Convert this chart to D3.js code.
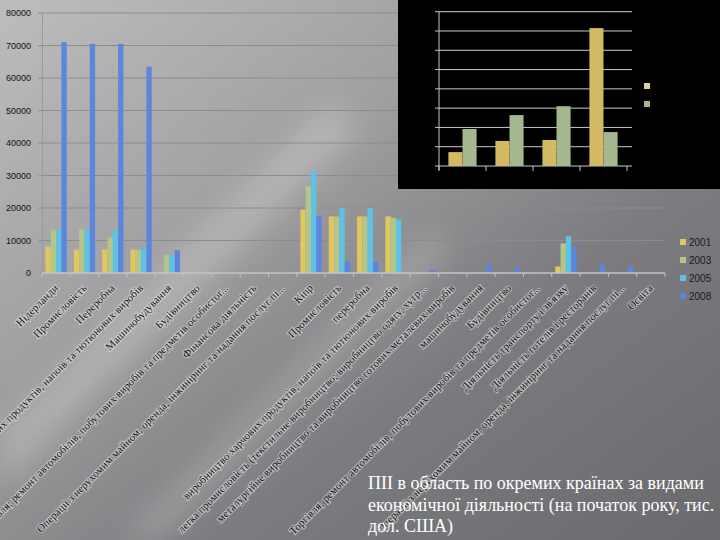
<!DOCTYPE html>
<html>
<head>
<meta charset="utf-8">
<script src="https://cdn.jsdelivr.net/npm/d3@7"></script>
<style>
  html, body { margin: 0; padding: 0; }
  body { width: 720px; height: 540px; overflow: hidden; }
  .tick-y { font-family: "Liberation Sans", Arial, sans-serif; font-size: 9px; fill: #111; }
  .cat { font-family: "Liberation Serif", "Times New Roman", serif; font-size: 11px; fill: #111;
         stroke: rgba(235,235,235,0.55); stroke-width: 2px; paint-order: stroke; }
  .leg { font-family: "Liberation Sans", Arial, sans-serif; font-size: 10px; fill: #1a1a1a; }
  .caption { font-family: "Liberation Serif", "Times New Roman", serif; font-size: 18px; fill: #fff; }
</style>
</head>
<body>
<script>
const w = 720;
const h = 540;

const categories = [
  "Нідерланди",
  "Промисловість",
  "Переробна",
  "виробництво харчових продуктів, напоїв та тютюнових виробів",
  "Машинобудування",
  "Будівництво",
  "Торгівля; ремонт автомобілів, побутових виробів та предметів особистог...",
  "Фінансова діяльність",
  "Операції з нерухомим майном, оренда, інжиніринг та надання послуг пі...",
  "Кіпр",
  "Промисловість",
  "переробна",
  "виробництво харчових продуктів, напоїв та тютюнових виробів",
  "легка промисловість (текстильне виробництво; виробництво одягу, хутр...",
  "металургійне виробництво та виробництво готових металевих виробів",
  "машинобудування",
  "Будівництво",
  "Торгівля; ремонт автомобілів, побутових виробів та предметів особистог...",
  "Діяльність транспорту і зв'язку",
  "Діяльність готелів і ресторанів",
  "Операції з нерухомим майном, оренда, інжиніринг та надання послуг пі...",
  "Освіта"
];

const years = ["2001", "2003", "2005", "2008"];
const v2001 = [8100, 7200, 7300, 7200, 0, 0, 0, 0, 0, 19500, 17400, 17400, 17400, 0, 0, 0, 0, 0, 2000, 0, 0, 0];
const v2003 = [13300, 13500, 11000, 7200, 5500, 0, 0, 0, 0, 26700, 17400, 17400, 17000, 0, 0, 0, 0, 0, 9100, 0, 0, 0];
const v2005 = [13300, 13300, 13000, 7500, 5500, 0, 0, 0, 0, 31300, 20000, 20000, 16500, 0, 0, 0, 0, 0, 11300, 0, 0, 0];
const v2008 = [71000, 70500, 70500, 63500, 7000, 0, 0, 0, 0, 17600, 3500, 3500, 0, 900, 0, 2600, 1700, 0, 8100, 2400, 2000, 0];
const yTicks = [0, 10000, 20000, 30000, 40000, 50000, 60000, 70000, 80000];

// small chart in the black box
const insetCats = ["a", "b", "c", "d"];
const insetA = [0.72, 1.3, 1.35, 7.15];
const insetB = [1.92, 2.64, 3.1, 1.76];

const colors = { "2001": "#e2c75e", "2003": "#b2c68a", "2005": "#5ec2e6", "2008": "#5b86dc" };
const series = { "2001": v2001, "2003": v2003, "2005": v2005, "2008": v2008 };

const svg = d3.select("body").append("svg").attr("width", w).attr("height", h);
const defs = svg.append("defs");

const bg = defs.append("linearGradient").attr("id", "bg")
  .attr("x1", "0").attr("y1", "0").attr("x2", "1").attr("y2", "1");
bg.append("stop").attr("offset", "0%").attr("stop-color", "#bdbdbd");
bg.append("stop").attr("offset", "35%").attr("stop-color", "#a0a0a2");
bg.append("stop").attr("offset", "65%").attr("stop-color", "#7c7c80");
bg.append("stop").attr("offset", "100%").attr("stop-color", "#6a6a6e");

defs.append("filter").attr("id", "blur").append("feGaussianBlur").attr("stdDeviation", 14);

svg.append("rect").attr("width", w).attr("height", h).attr("fill", "url(#bg)");

// light diagonal sheen
const sheen = svg.append("g").attr("filter", "url(#blur)").attr("opacity", 0.35);
sheen.append("path").attr("d", "M0,430 L330,100 L360,130 L0,490 Z").attr("fill", "#d8d8d8");
sheen.append("path").attr("d", "M120,540 L430,230 L450,250 L160,540 Z").attr("fill", "#c8c8c8");

const pLeft = 42, pRight = 665, pTop = 13, pBottom = 273;

const x0 = d3.scaleBand()
  .domain(categories.map((d, i) => i))
  .range([pLeft, pRight])
  .paddingInner(0.25)
  .paddingOuter(0.125);
const x1 = d3.scaleBand().domain(years).range([0, x0.bandwidth()]);
const y = d3.scaleLinear().domain([0, 80000]).range([pBottom, pTop]);

// grid
svg.append("g")
  .selectAll("line")
  .data(yTicks.slice(1))
  .enter()
  .append("line")
  .attr("x1", pLeft - 3)
  .attr("x2", pRight)
  .attr("y1", (d) => y(d))
  .attr("y2", (d) => y(d))
  .attr("stroke", "#8c8c8e")
  .attr("stroke-width", 1);

const yAxis = d3.axisLeft(y).tickValues(yTicks).tickSize(4).tickPadding(7).tickFormat(d3.format("d"));
const gy = svg.append("g").attr("transform", `translate(${pLeft},0)`).call(yAxis);
gy.select(".domain").attr("stroke", "#9a9a9a");
gy.selectAll(".tick line").attr("stroke", "#9a9a9a");
gy.selectAll(".tick text").attr("class", "tick-y").attr("fill", null);
gy.attr("font-size", null).attr("font-family", null);

// bars
const groups = svg.append("g")
  .selectAll("g")
  .data(categories.map((d, i) => i))
  .enter()
  .append("g")
  .attr("transform", (i) => `translate(${x0(i)},0)`);

groups.selectAll("rect")
  .data((i) => years.map((yr) => ({ yr: yr, v: series[yr][i] })))
  .enter()
  .append("rect")
  .attr("x", (d) => x1(d.yr))
  .attr("width", x1.bandwidth())
  .attr("y", (d) => y(d.v))
  .attr("height", (d) => pBottom - y(d.v))
  .attr("fill", (d) => colors[d.yr]);

// x axis
const gx = svg.append("g").attr("transform", `translate(0,${pBottom})`);
gx.append("line").attr("x1", pLeft).attr("x2", pRight).attr("stroke", "#c4c4c6").attr("stroke-width", 1.5);
gx.selectAll(".tk")
  .data(d3.range(categories.length + 1))
  .enter()
  .append("line")
  .attr("x1", (i) => pLeft + i * x0.step())
  .attr("x2", (i) => pLeft + i * x0.step())
  .attr("y1", 0)
  .attr("y2", 4)
  .attr("stroke", "#c4c4c6");

svg.append("g")
  .selectAll("text")
  .data(categories)
  .enter()
  .append("text")
  .attr("class", "cat")
  .attr("text-anchor", "end")
  .attr("transform", (d, i) => `translate(${x0(i) + x0.bandwidth() / 2},${pBottom + 13}) rotate(-45)`)
  .attr("dy", "0.35em")
  .text((d) => d);

// legend
const leg = svg.append("g")
  .selectAll("g")
  .data(years)
  .enter()
  .append("g")
  .attr("transform", (d, i) => `translate(680,${242 + i * 18})`);
leg.append("rect").attr("x", 0).attr("y", -3).attr("width", 6).attr("height", 6).attr("fill", (d) => colors[d]);
leg.append("text").attr("class", "leg").attr("x", 9).attr("dy", "0.35em").text((d) => d);

// black inset
svg.append("rect").attr("x", 398).attr("y", 0).attr("width", 322).attr("height", 189).attr("fill", "#000");

const iy = d3.scaleLinear().domain([0, 8]).range([166, 11.7]);
const ix0 = d3.scaleBand().domain(insetCats).range([439, 627]).paddingInner(0.4).paddingOuter(0.2);
const ix1 = d3.scaleBand().domain(["A", "B"]).range([0, ix0.bandwidth()]);
const inset = svg.append("g");

inset.selectAll(".g")
  .data(d3.range(9))
  .enter()
  .append("line")
  .attr("x1", 435)
  .attr("x2", 632)
  .attr("y1", (d) => iy(d))
  .attr("y2", (d) => iy(d))
  .attr("stroke", "#c9c9c9")
  .attr("stroke-width", 1);
inset.append("line").attr("x1", 439).attr("x2", 439).attr("y1", iy(8)).attr("y2", 170).attr("stroke", "#c9c9c9");
inset.selectAll(".xt")
  .data(d3.range(5))
  .enter()
  .append("line")
  .attr("x1", (i) => 439 + i * 47)
  .attr("x2", (i) => 439 + i * 47)
  .attr("y1", 166)
  .attr("y2", 171)
  .attr("stroke", "#c9c9c9");

const insetColors = { A: "#d4b965", B: "#a5b78e" };
const ig = inset.selectAll(".ig")
  .data(insetCats.map((c, i) => i))
  .enter()
  .append("g")
  .attr("transform", (i) => `translate(${ix0(insetCats[i])},0)`);
ig.selectAll("rect")
  .data((i) => [{ k: "A", v: insetA[i] }, { k: "B", v: insetB[i] }])
  .enter()
  .append("rect")
  .attr("x", (d) => ix1(d.k))
  .attr("width", ix1.bandwidth())
  .attr("y", (d) => iy(d.v))
  .attr("height", (d) => 166 - iy(d.v))
  .attr("fill", (d) => insetColors[d.k]);

inset.selectAll(".il")
  .data(["A", "B"])
  .enter()
  .append("rect")
  .attr("x", 644)
  .attr("y", (d, i) => 83 + i * 18)
  .attr("width", 6)
  .attr("height", 6)
  .attr("fill", (d) => (d === "A" ? "#dccfa4" : "#a8b596"));

// caption
const captionLines = [
  "ПІІ в область по окремих країнах за видами",
  "економічної діяльності (на початок року, тис.",
  "дол. США)"
];
svg.append("g")
  .selectAll("text")
  .data(captionLines)
  .enter()
  .append("text")
  .attr("class", "caption")
  .attr("x", 368)
  .attr("y", (d, i) => 489 + i * 21.5)
  .text((d) => d);
</script>
</body>
</html>
